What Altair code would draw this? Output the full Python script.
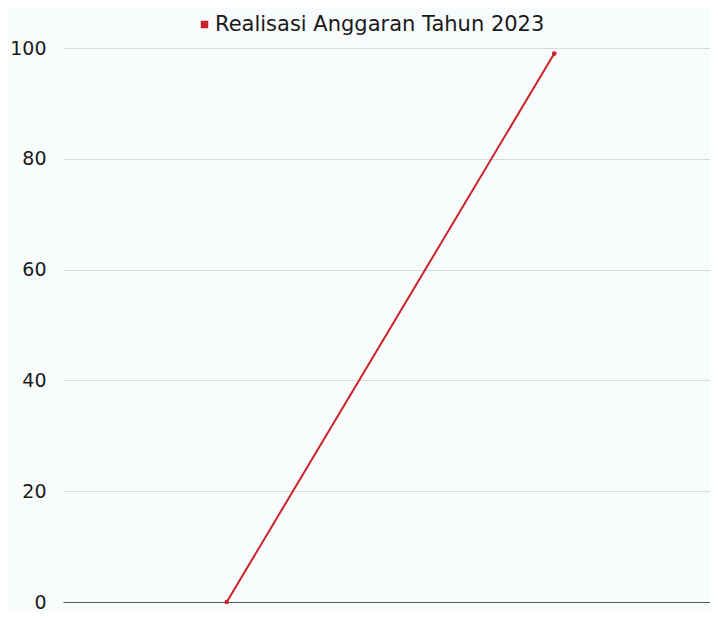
import altair as alt
import pandas as pd

categories = ["Anggaran", "Realisasi"]
values = [0, 99]
series = "Realisasi Anggaran Tahun 2023"

df = pd.DataFrame({"kategori": categories, "nilai": values, "seri": [series] * len(categories)})

FONT = "DejaVu Sans"
RED = "#cc2229"

base = alt.Chart(df).encode(
    x=alt.X("kategori:N", sort=categories, title=None,
            axis=alt.Axis(labels=False, ticks=False, domain=True, domainColor="#595959",
                          domainWidth=1, grid=False)),
    y=alt.Y("nilai:Q", title=None, scale=alt.Scale(domain=[0, 100], nice=False),
            axis=alt.Axis(values=[0, 20, 40, 60, 80, 100], grid=True, gridColor="#d9d9d9",
                          domain=False, ticks=False, labelPadding=17, labelFontSize=19,
                          labelColor="#1a1a1a", labelFont=FONT)),
    color=alt.Color("seri:N", scale=alt.Scale(range=[RED]), title=None,
                    legend=alt.Legend(orient="none", legendX=131, legendY=-34,
                                      direction="horizontal", symbolType="square",
                                      symbolSize=36, labelFontSize=21, labelFont=FONT,
                                      labelColor="#1a1a1a", symbolOffset=0, labelOffset=0,
                                      labelLimit=500)),
)

line = base.mark_line(strokeWidth=2)
pts = base.mark_point(filled=True, size=22, opacity=1)

chart = (line + pts).properties(
    width=655, height=554,
    autosize=alt.AutoSizeParams(type="none"),
    padding={"left": 55, "top": 40, "right": -8, "bottom": 9},
    background="#f8fcfd",
).configure_view(stroke=None)

chart.save("out.html", embed_options={"renderer": "svg", "actions": False})
